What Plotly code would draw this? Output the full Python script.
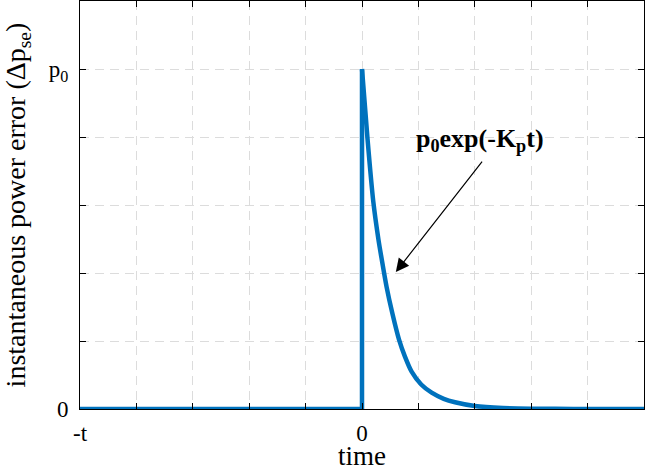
import plotly.graph_objects as go

# Baseline and step (x in units of t, y in units of p0)
step_x = [-1.0, 0.0, 0.0]
step_y = [0.0, 0.0, 1.0]
# Decay curve
decay_x = [0.0, 0.019, 0.040, 0.058, 0.070, 0.087, 0.108, 0.131, 0.152, 0.176, 0.21,
           0.247, 0.29, 0.33, 0.40, 0.5, 0.6, 0.75, 1.0]
decay_y = [1.0, 0.80, 0.61, 0.50, 0.44, 0.36, 0.28, 0.205, 0.155, 0.11, 0.072,
           0.048, 0.030, 0.020, 0.009, 0.003, 0.001, 0.0002, 0.0]

x_tickvals = [-1.0, -0.8, -0.6, -0.4, -0.2, 0.0, 0.2, 0.4, 0.6, 0.8, 1.0]
x_ticktext = ["-t", "", "", "", "", "0", "", "", "", "", "t"]
y_tickvals = [0.0, 0.2, 0.4, 0.6, 0.8, 1.0, 1.2]
y_ticktext = ["0", "", "", "", "", "p<sub>0</sub>", ""]

x_title = "time"
y_title = "instantaneous power error (Δp<sub>se</sub>)"
label_text = "<b>p<sub>0</sub>exp(-K<sub>p</sub>t)</b>"
arrow_tip = (0.12, 0.403)
arrow_tail = (0.43, 0.732)
label_pos = (0.186, 0.79)

blue = "#0072BD"
fig = go.Figure()
fig.add_trace(go.Scatter(
    x=step_x, y=step_y, mode="lines",
    line=dict(color=blue, width=4.5),
    cliponaxis=False, showlegend=False, hoverinfo="skip",
))
fig.add_trace(go.Scatter(
    x=decay_x, y=decay_y, mode="lines",
    line=dict(color=blue, width=4.5, shape="spline", smoothing=0.8),
    cliponaxis=False, showlegend=False, hoverinfo="skip",
))

font_family = "Liberation Serif, Times New Roman, serif"

axis_common = dict(
    showline=True, linecolor="black", linewidth=1, mirror="ticks",
    ticks="inside", ticklen=6, tickcolor="black", tickwidth=1,
    showgrid=True, gridcolor="#dcdcdc", gridwidth=1, griddash="9px,6px",
    zeroline=False, tickfont=dict(family=font_family, size=23, color="black"),
)

fig.update_xaxes(
    range=[-1, 1], tickmode="array", tickvals=x_tickvals, ticktext=x_ticktext,
    ticklabelstandoff=3,
    **axis_common,
)
fig.update_yaxes(
    range=[0, 1.2], tickmode="array", tickvals=y_tickvals, ticktext=y_ticktext,
    title=dict(text=y_title,
               font=dict(family=font_family, size=28, color="black"), standoff=18),
    ticklabelstandoff=6,
    **axis_common,
)

# x-axis title placed close under the tick labels, as in the reference
fig.add_annotation(
    x=0.5, y=0, xref="paper", yref="paper", text=x_title,
    showarrow=False, xanchor="center", yanchor="bottom", yshift=-64,
    font=dict(family=font_family, size=27, color="black"),
)

fig.add_annotation(
    x=arrow_tip[0], y=arrow_tip[1], ax=arrow_tail[0], ay=arrow_tail[1],
    xref="x", yref="y", axref="x", ayref="y", text="",
    showarrow=True, arrowhead=2, arrowsize=2.2, arrowwidth=1.2, arrowcolor="black",
)
fig.add_annotation(
    x=label_pos[0], y=label_pos[1], xref="x", yref="y", text=label_text,
    showarrow=False, xanchor="left", yanchor="middle",
    font=dict(family=font_family, size=26, color="black"),
)

fig.update_layout(
    width=647, height=465,
    margin=dict(l=80, r=3, t=1, b=56, autoexpand=False),
    plot_bgcolor="white", paper_bgcolor="white",
)

fig.write_html("out.html", config={"displayModeBar": False},
               post_script="document.body.style.margin='0';")
